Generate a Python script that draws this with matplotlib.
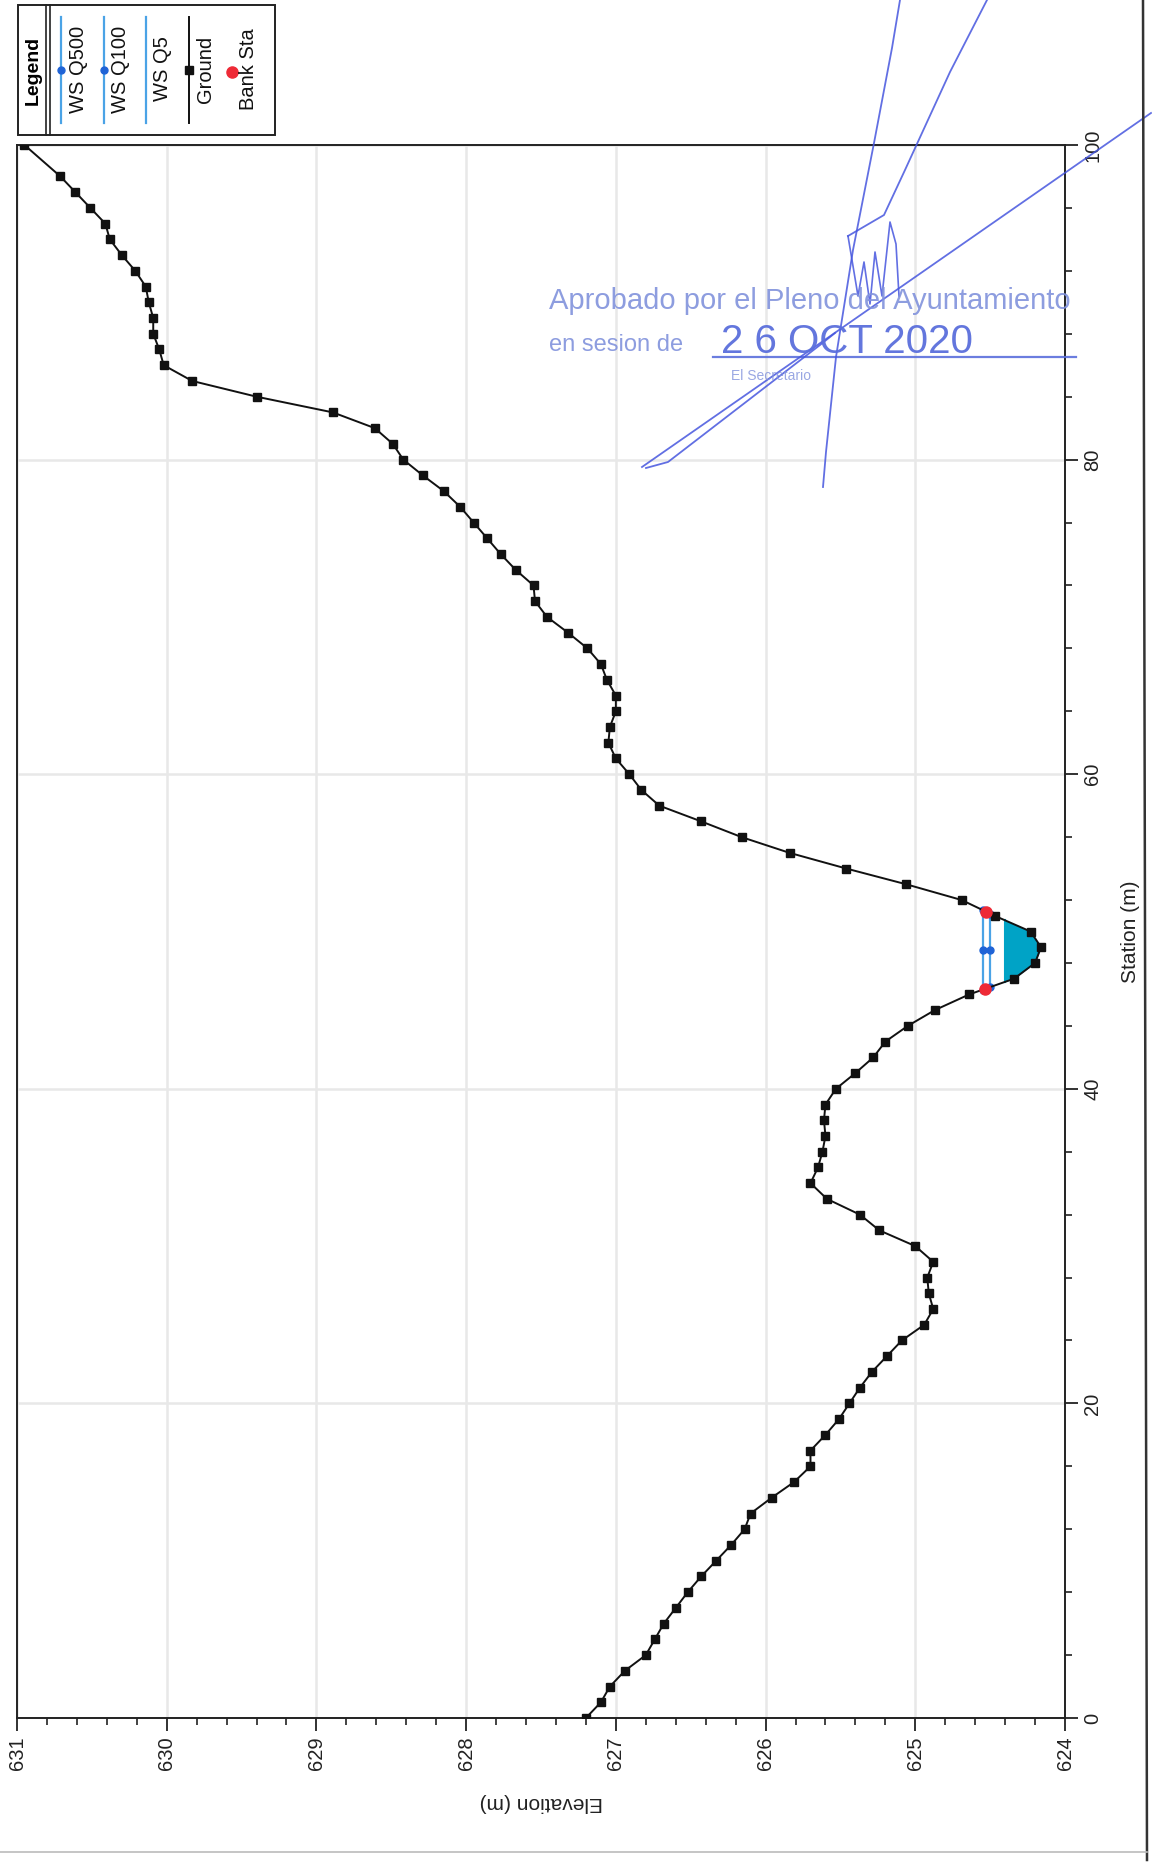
import numpy as np
import matplotlib
matplotlib.use("Agg")
import matplotlib.pyplot as plt
from matplotlib.patches import Rectangle
from matplotlib.ticker import MultipleLocator

plt.rcParams['font.family'] = ['Liberation Sans', 'DejaVu Sans']

# --- Ground profile (station m / elevation m) ---
station = [0, 1, 2, 3, 4, 5, 6, 7, 8, 9,
           10, 11, 12, 13, 14, 15, 16, 17, 18, 19,
           20, 21, 22, 23, 24, 25, 26, 27, 28, 29,
           30, 31, 32, 33, 34, 35, 36, 37, 38, 39,
           40, 41, 42, 43, 44, 45, 46, 47, 48, 49,
           50, 51, 52, 53, 54, 55, 56, 57, 58, 59,
           60, 61, 62, 63, 64, 65, 66, 67, 68, 69,
           70, 71, 72, 73, 74, 75, 76, 77, 78, 79,
           80, 81, 82, 83, 84, 85, 86, 87, 88, 89,
           90, 91, 92, 93, 94, 95, 96, 97, 98, 100]
elevation = [627.20, 627.10, 627.04, 626.94, 626.80, 626.74, 626.68, 626.60, 626.52, 626.43,
             626.33, 626.23, 626.14, 626.10, 625.96, 625.81, 625.70, 625.70, 625.60, 625.51,
             625.44, 625.37, 625.29, 625.19, 625.09, 624.94, 624.88, 624.91, 624.92, 624.88,
             625.00, 625.24, 625.37, 625.59, 625.70, 625.65, 625.62, 625.60, 625.61, 625.60,
             625.53, 625.40, 625.28, 625.20, 625.05, 624.87, 624.64, 624.34, 624.20, 624.16,
             624.23, 624.47, 624.69, 625.06, 625.46, 625.84, 626.16, 626.43, 626.71, 626.83,
             626.91, 627.00, 627.05, 627.04, 627.00, 627.00, 627.06, 627.10, 627.19, 627.32,
             627.46, 627.54, 627.55, 627.67, 627.77, 627.86, 627.95, 628.04, 628.15, 628.29,
             628.42, 628.49, 628.61, 628.89, 629.40, 629.83, 630.02, 630.05, 630.09, 630.09,
             630.12, 630.14, 630.21, 630.30, 630.38, 630.41, 630.51, 630.61, 630.71, 630.95]

# water surfaces
ws_names = ["WS Q500", "WS Q100", "WS Q5"]
ws_elev = [624.55, 624.50, 624.40]
bank_sta = [46.35, 51.25]

elev_ticks = [631, 630, 629, 628, 627, 626, 625, 624]
sta_ticks = [0, 20, 40, 60, 80, 100]

# stamp text
stamp_lines = ["Aprobado por el Pleno del Ayuntamiento", "en sesion de", "2 6 OCT 2020", "El Secretario"]

WS_LINE = '#4aa3e6'
WS_MARK = '#1f63d6'
Q5_FILL = '#00a3c6'
STAMP = '#8192dc'
INK = '#4656de'

st = np.array(station, float)
el = np.array(elevation, float)


def ws_extent(level):
    low = int(np.argmin(el))
    i = low
    while el[i - 1] < level:
        i -= 1
    left = st[i - 1] + (level - el[i - 1]) * (st[i] - st[i - 1]) / (el[i] - el[i - 1])
    j = low
    while el[j + 1] < level:
        j += 1
    right = st[j] + (level - el[j]) * (st[j + 1] - st[j]) / (el[j + 1] - el[j])
    return left, right


W, H = 1152, 1864
fig = plt.figure(figsize=(W / 100, H / 100), dpi=100)
fig.patch.set_facecolor('white')

# plot area, in pixels: left 17, right 1065, top 145, bottom 1718
ax = fig.add_axes([17 / W, 1 - 1718 / H, (1065 - 17) / W, (1718 - 145) / H])
ax.set_xlim(631, 624)
ax.set_ylim(0, 100)

ax.grid(True, which='major', color='#e8e8e8', linewidth=1.8)
ax.set_axisbelow(True)

# Q5 fill
q5 = ws_elev[2]
ax.fill_betweenx(st, el, q5, where=el < q5, interpolate=True, color=Q5_FILL, lw=0, zorder=2)
l5, r5 = ws_extent(q5)
ax.plot([q5, q5], [l5, r5], color=Q5_FILL, lw=1.5, zorder=3)

# Q500 / Q100 lines
for lev in ws_elev[:2]:
    a, b = ws_extent(lev)
    ax.plot([lev, lev], [a, b], color=WS_LINE, lw=1.6, zorder=3)
    ax.plot([lev, lev, lev], [a, (a + b) / 2, b], ls='none', marker='o', ms=5,
            color=WS_MARK, zorder=4)

# ground
ax.plot(el, st, color='#111111', lw=1.4, marker='s', ms=6, mfc='#111111', mec='#111111', zorder=5)

# bank stations
bank_el = np.interp(bank_sta, st, el)
ax.plot(bank_el, bank_sta, ls='none', marker='o', ms=8, color='#ee2a36', zorder=6)

# axes styling
for s in ax.spines.values():
    s.set_linewidth(1.4)
    s.set_color('#222222')

ax.set_xticks(elev_ticks)
ax.xaxis.set_minor_locator(MultipleLocator(0.2))
ax.yaxis.tick_right()
ax.set_yticks(sta_ticks)
ax.yaxis.set_minor_locator(MultipleLocator(4))

ax.tick_params(axis='both', which='major', length=9, width=1.3, direction='out',
               labelsize=14.5, colors='#222222', pad=4)
ax.tick_params(axis='both', which='minor', length=5, width=1.2, direction='out', colors='#222222')
ax.tick_params(axis='y', which='both', left=False, right=True)

for lab in ax.get_xticklabels():
    lab.set_rotation(90)
    lab.set_ha('center')
    lab.set_va('top')
for lab in ax.get_yticklabels():
    lab.set_rotation(90)
    lab.set_ha('left')
    lab.set_va('center')

ax.yaxis.set_label_position('right')
ax.set_ylabel('Station (m)', fontsize=15, rotation=90, labelpad=14, color='#222222')
ax.set_xlabel('Elevation (m)', fontsize=15, rotation=180, labelpad=17, color='#222222')

# --- overlay in pixel coordinates: legend, stamp, page border ---
ov = fig.add_axes([0, 0, 1, 1])
ov.set_xlim(0, W)
ov.set_ylim(H, 0)
ov.axis('off')

# legend box
ov.add_patch(Rectangle((18, 5), 257, 130, fill=False, lw=1.4, ec='#222222'))
ov.plot([46, 46], [5, 135], color='#222222', lw=1.2)
ov.plot([50, 50], [5, 135], color='#222222', lw=1.2)
ov.text(33, 70, 'Legend', rotation=90, ha='center', va='center', fontsize=14, fontweight='bold')

leg_names = ws_names + ['Ground', 'Bank Sta']
leg_x = [61, 104, 146, 189, 232]
for k, name in enumerate(leg_names):
    x = leg_x[k]
    if k < 3:
        ov.plot([x, x], [17, 123], color=WS_LINE, lw=1.6)
        if k < 2:
            ov.plot(x, 70, marker='o', ms=5, color=WS_MARK)
    elif name == 'Ground':
        ov.plot([x, x], [17, 123], color='#111111', lw=1.4)
        ov.plot(x, 70, marker='s', ms=6, color='#111111')
    else:
        ov.plot(x, 72, marker='o', ms=8, color='#ee2a36')
    ov.text(x + 17, 69, name, rotation=90, ha='center', va='center', fontsize=14.5, color='#111111')

# approval stamp
ov.text(549, 301, stamp_lines[0], fontsize=21, color=STAMP, ha='left', va='center', alpha=0.9)
ov.text(549, 345, stamp_lines[1], fontsize=17, color=STAMP, ha='left', va='center', alpha=0.9)
ov.text(721, 342, stamp_lines[2], fontsize=29, color='#5b6fdc', ha='left', va='center', alpha=0.95)
ov.plot([713, 1076], [357, 357], color='#5b6fdc', lw=1.6, alpha=0.9)
ov.text(731, 376, stamp_lines[3], fontsize=10, color=STAMP, ha='left', va='center', alpha=0.8)

# signature strokes
ov.plot([642, 1151], [467, 113], color=INK, lw=1.3, alpha=0.85)
ov.plot([646, 668, 820, 835], [468, 462, 345, 333], color=INK, lw=1.3, alpha=0.85)
ov.plot([823, 826, 836, 853, 874, 892, 900], [487, 452, 357, 250, 143, 48, 0], color=INK, lw=1.3, alpha=0.85)
ov.plot([987, 950, 905, 884, 848], [0, 72, 170, 215, 236], color=INK, lw=1.3, alpha=0.85)
ov.plot([848, 858, 864, 870, 875, 882, 890, 896, 899],
        [236, 296, 262, 304, 252, 296, 222, 244, 296], color=INK, lw=1.2, alpha=0.85)

# page border from the scan
ov.plot([1143, 1147], [0, 1860], color='#333333', lw=1.8)
ov.plot([0, 1147], [1852, 1852], color='#bbbbbb', lw=1.2)

fig.savefig('out.png', dpi=100, facecolor='white')
